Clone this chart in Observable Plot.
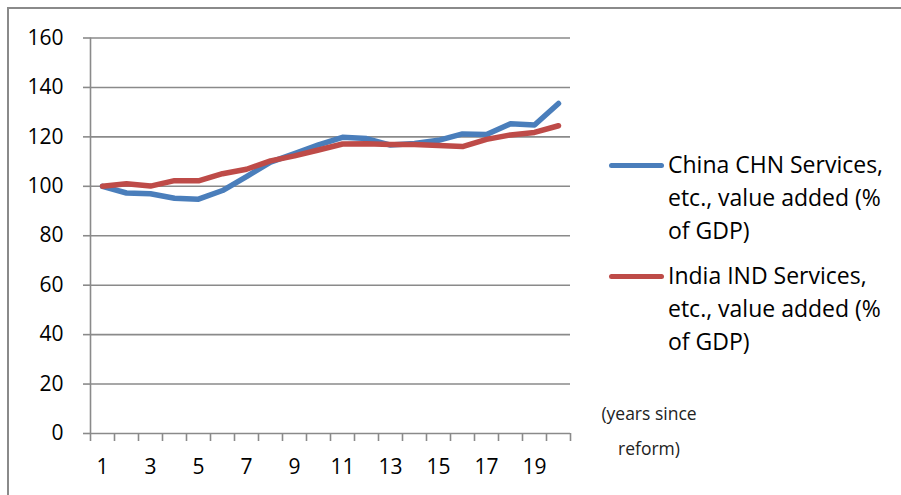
<!DOCTYPE html>
<html>
<head>
<meta charset="utf-8">
<script src="https://cdn.jsdelivr.net/npm/d3@7"></script>
<script src="https://cdn.jsdelivr.net/npm/@observablehq/plot@0.6"></script>
<style>
  html, body { margin: 0; padding: 0; background: #fff; }
  #wrap { position: relative; width: 901px; height: 495px; overflow: hidden; font-family: "Open Sans", sans-serif; }
  #frame { position: absolute; left: 7px; top: 7px; width: 920px; height: 520px;
           border-top: 2px solid #8a8a8a; border-left: 2px solid #8a8a8a; }
  #legend { position: absolute; left: 609px; top: 148px; font-size: 23px; line-height: 33px; color: #000; }
  .entry { position: relative; padding-left: 59px; margin-bottom: 12px; white-space: nowrap; }
  .swatch { position: absolute; left: 0; top: 15px; width: 55px; height: 5px; border-radius: 3px; }
  #note { position: absolute; left: 579px; top: 396px; width: 140px; text-align: center;
          font-size: 17.5px; line-height: 35px; color: #222; }
</style>
</head>
<body>
<div id="wrap">
  <div id="frame"></div>
  <div id="chart"></div>
  <div id="legend"></div>
  <div id="note">(years since<br>reform)</div>
</div>
<script>
// Years since reform (category axis)
const years = [1, 2, 3, 4, 5, 6, 7, 8, 9, 10, 11, 12, 13, 14, 15, 16, 17, 18, 19, 20];
// Services, etc., value added (% of GDP), indexed to year 1 = 100
const china = [100, 97.3, 97.0, 95.2, 94.8, 98.3, 103.9, 109.8, 113.2, 116.8,
               119.8, 119.3, 116.7, 117.3, 118.6, 121.2, 121.0, 125.3, 124.8, 133.5];
const india = [100, 101.0, 100.1, 102.3, 102.2, 105.1, 106.9, 110.3, 112.3, 114.7,
               117.1, 117.2, 116.9, 116.9, 116.5, 116.1, 119.0, 120.8, 121.8, 124.5];
const seriesNames = [
  "China CHN Services, etc., value added (% of GDP)",
  "India IND Services, etc., value added (% of GDP)"
];
const seriesColors = ["#4A7EBB", "#BE4B48"];
const legendLines = [
  ["China CHN Services,", "etc., value added (%", "of GDP)"],
  ["India IND Services,", "etc., value added (%", "of GDP)"]
];
const yTicks = [0, 20, 40, 60, 80, 100, 120, 140, 160];
const xLabels = [1, 3, 5, 7, 9, 11, 13, 15, 17, 19];

const rows = [
  ...years.map((y, i) => ({year: y, value: china[i], series: seriesNames[0]})),
  ...years.map((y, i) => ({year: y, value: india[i], series: seriesNames[1]}))
];
// Category boundaries, where the axis tick marks sit
const boundaries = [...years.map(y => y - 0.5), years[years.length - 1] + 0.5];
const gray = "#8a8a8a";

const chart = Plot.plot({
  width: 901,
  height: 495,
  marginLeft: 90,
  marginRight: 331,
  marginTop: 37.5,
  marginBottom: 62,
  style: {fontFamily: "Open Sans, sans-serif", fontSize: "21px", color: "#000", background: "transparent"},
  x: {domain: [boundaries[0], boundaries[boundaries.length - 1]]},
  y: {domain: [0, 160]},
  color: {domain: seriesNames, range: seriesColors},
  marks: [
    Plot.gridY(yTicks.filter(d => d > 0), {stroke: gray, strokeOpacity: 1, strokeWidth: 1.6}),
    Plot.axisY(yTicks, {tickSize: 7, tickPadding: 20, stroke: gray, strokeWidth: 1.6, fontSize: 21, fill: "#000", label: null}),
    Plot.axisX(boundaries, {tickSize: 8, tickFormat: () => "", stroke: gray, strokeWidth: 1.6, label: null}),
    Plot.axisX(xLabels, {tickSize: 0, tickPadding: 26, fontSize: 21, fill: "#000", label: null}),
    Plot.ruleX([boundaries[0]], {stroke: gray, strokeWidth: 1.6}),
    Plot.ruleY([0], {stroke: gray, strokeWidth: 1.6}),
    Plot.line(rows, {x: "year", y: "value", z: "series", stroke: "series",
                     strokeWidth: 5.5, strokeLinejoin: "round", strokeLinecap: "round"})
  ]
});
document.getElementById("chart").appendChild(chart);

// Legend to the right of the plot
const legend = document.getElementById("legend");
seriesNames.forEach((name, i) => {
  const entry = document.createElement("div");
  entry.className = "entry";
  const sw = document.createElement("span");
  sw.className = "swatch";
  sw.style.background = seriesColors[i];
  entry.appendChild(sw);
  legendLines[i].forEach((line, j) => {
    if (j > 0) entry.appendChild(document.createElement("br"));
    entry.appendChild(document.createTextNode(line));
  });
  legend.appendChild(entry);
});
</script>
</body>
</html>
